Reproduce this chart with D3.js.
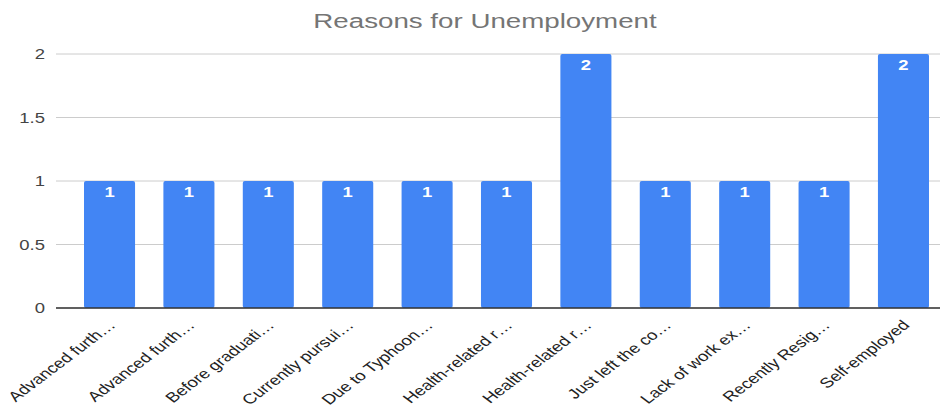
<!DOCTYPE html>
<html><head><meta charset="utf-8">
<script src="https://cdn.jsdelivr.net/npm/d3@7"></script>
<style>body{margin:0;background:#fff}svg{display:block;font-family:"Liberation Sans",Arial,sans-serif}</style>
</head><body><svg id="c" width="945" height="406"></svg>
<script>
const categories = ["Advanced furth…","Advanced furth…","Before graduati…","Currently pursui…","Due to Typhoon…","Health-related r…","Health-related r…","Just left the co…","Lack of work ex…","Recently Resig…","Self-employed"];
const values = [1,1,1,1,1,1,2,1,1,1,2];
const yTicks = [0,0.5,1,1.5,2];
const yTickLabels = ["0","0.5","1","1.5","2"];
const title = "Reasons for Unemployment";
const SX = 1.32; // horizontal stretch of text seen in the reference

const svg = d3.select("#c");
const x = d3.scaleBand().domain(d3.range(categories.length)).range([84,929]).paddingInner(0.357).paddingOuter(0);
const y = d3.scaleLinear().domain([0,2]).range([308,54]);

svg.append("text").attr("transform",`translate(485,27.5) scale(${SX},1)`).attr("text-anchor","middle")
  .attr("font-size",21).attr("fill","#757575").text(title);

const g = svg.append("g");
g.selectAll("line.grid").data(yTicks).join("line")
  .attr("x1",56).attr("x2",940).attr("y1",d=>y(d)).attr("y2",d=>y(d))
  .attr("stroke","#cccccc").attr("stroke-width",1);
g.selectAll("text.yl").data(yTicks).join("text")
  .attr("transform",d=>`translate(45,${y(d)+5}) scale(${SX},1)`).attr("text-anchor","end")
  .attr("font-size",14).attr("fill","#444").text((d,i)=>yTickLabels[i]);

g.selectAll("rect.bar").data(values).join("rect")
  .attr("x",(d,i)=>x(i)).attr("width",x.bandwidth())
  .attr("y",d=>y(d)).attr("height",d=>y(0)-y(d)).attr("rx",2).attr("fill","#4285f4");
svg.append("line").attr("x1",56).attr("x2",940).attr("y1",y(0)).attr("y2",y(0)).attr("stroke","#333").attr("stroke-width",1.5);

g.selectAll("text.val").data(values).join("text")
  .attr("transform",(d,i)=>`translate(${x(i)+x.bandwidth()/2},${y(d)+15.5}) scale(${SX},1)`)
  .attr("text-anchor","middle").attr("font-size",14).attr("font-weight","bold").attr("fill","#fff").text(d=>d);

g.selectAll("text.xl").data(categories).join("text")
  .attr("transform",(d,i)=>`translate(${x(i)+x.bandwidth()/2+7},${326}) scale(${SX},1) rotate(-45)`)
  .attr("text-anchor","end").attr("font-size",14).attr("fill","#222").text(d=>d);
</script></body></html>
